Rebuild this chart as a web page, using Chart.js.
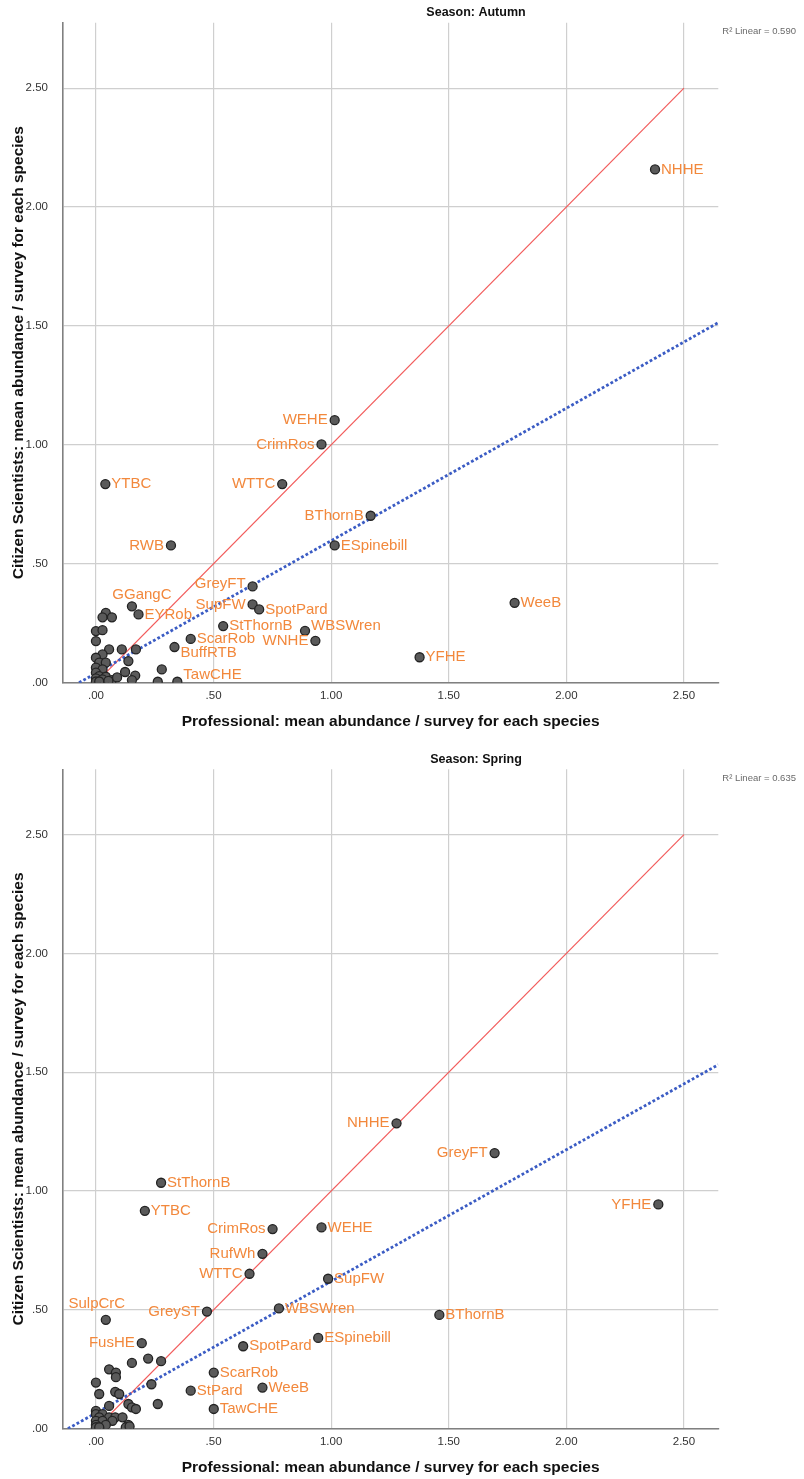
<!DOCTYPE html>
<html>
<head>
<meta charset="utf-8">
<script src="https://cdn.jsdelivr.net/npm/chart.js@4.4.1/dist/chart.umd.min.js"></script>
<style>
  html, body { margin: 0; padding: 0; background: #ffffff; }
  .panel { position: relative; width: 804px; }
  canvas { display: block; }
</style>
</head>
<body>
<div class="panel" style="height:740px"><canvas id="autumnChart" width="804" height="740"></canvas></div>
<div class="panel" style="height:739px"><canvas id="springChart" width="804" height="739"></canvas></div>
<script>
// ---- Autumn: mean abundance per survey, one entry per species ----
const autumnSpecies = [
  'NHHE', 'WEHE', 'CrimRos', 'YTBC', 'WTTC', 'BThornB', 'ESpinebill', 'RWB',
  'GreyFT', 'SupFW', 'SpotPard', 'StThornB', 'WBSWren', 'WNHE', 'YFHE', 'WeeB',
  'GGangC', 'EYRob', 'ScarRob', 'BuffRTB', 'TawCHE',
  '', '', '', '', '', '', '', '', '', '', '', '', '', '', '', '',
  '', '', '', '', '', '', '', '', '', '', '', '', '', '', ''
];
const autumnProfessional = [
  2.377, 1.015, 0.959, 0.040, 0.792, 1.168, 1.015, 0.319,
  0.666, 0.666, 0.694, 0.541, 0.889, 0.933, 1.376, 1.780,
  0.153, 0.181, 0.403, 0.334, 0.346,
  0.042, 0.028, 0.068, 0.000, 0.028, 0.000, 0.056, 0.110, 0.170, 0.028, 0.000, 0.138, 0.014, 0.042, 0.000, 0.028,
  0.280, 0.124, 0.167, 0.153, 0.000, 0.014, 0.042, 0.000, 0.028, 0.068, 0.000, 0.263, 0.014, 0.053, 0.090
];
const autumnCitizen = [
  2.158, 1.104, 1.002, 0.835, 0.835, 0.702, 0.577, 0.577,
  0.405, 0.329, 0.308, 0.238, 0.218, 0.176, 0.107, 0.336,
  0.321, 0.287, 0.184, 0.150, 0.004,
  0.294, 0.275, 0.275, 0.217, 0.221, 0.175, 0.140, 0.140, 0.140, 0.119, 0.105, 0.091, 0.084, 0.084, 0.063, 0.056,
  0.056, 0.045, 0.030, 0.011, 0.042, 0.028, 0.025, 0.018, 0.014, 0.011, 0.005, 0.004, 0.005, 0.008, 0.022
];
const autumnFit = [0.040, 0.557];   // intercept, slope of the linear fit
const autumnR2 = 0.590;

// ---- Spring ----
const springSpecies = [
  'NHHE', 'GreyFT', 'StThornB', 'YTBC', 'CrimRos', 'WEHE', 'RufWh', 'WTTC',
  'SupFW', 'GreyST', 'WBSWren', 'BThornB', 'ESpinebill', 'SpotPard', 'ScarRob',
  'StPard', 'WeeB', 'TawCHE', 'SulpCrC', 'FusHE', 'YFHE',
  '', '', '', '', '', '', '', '', '', '', '', '', '', '', '', '', '',
  '', '', '', '', '', '', '', '', '', '', '', '', '', '', ''
];
const springProfessional = [
  1.278, 1.695, 0.277, 0.208, 0.751, 0.959, 0.708, 0.653,
  0.987, 0.472, 0.778, 1.460, 0.945, 0.626, 0.501,
  0.403, 0.708, 0.501, 0.042, 0.195, 2.391,
  0.222, 0.277, 0.153, 0.056, 0.085, 0.085, 0.000, 0.236, 0.014, 0.082, 0.099, 0.056, 0.138, 0.153, 0.170, 0.263, 0.000,
  0.000, 0.028, 0.014, 0.056, 0.082, 0.113, 0.000, 0.028, 0.070, 0.000, 0.042, 0.138, 0.000, 0.014, 0.127, 0.143
];
const springCitizen = [
  1.285, 1.160, 1.035, 0.917, 0.840, 0.847, 0.736, 0.652,
  0.631, 0.493, 0.506, 0.479, 0.382, 0.347, 0.236,
  0.160, 0.173, 0.083, 0.458, 0.360, 0.944,
  0.295, 0.284, 0.277, 0.250, 0.236, 0.217, 0.194, 0.187, 0.146, 0.155, 0.146, 0.096, 0.104, 0.090, 0.083, 0.104, 0.075,
  0.061, 0.061, 0.048, 0.048, 0.048, 0.048, 0.033, 0.033, 0.033, 0.016, 0.016, 0.016, 0.006, 0.006, 0.006, 0.010
];
const springFit = [0.066, 0.554];
const springR2 = 0.635;

// ---- Shared axis settings ----
const tickValues = [0, 0.5, 1, 1.5, 2, 2.5];
const xRange = [-0.14, 2.646];
const yRange = [0, 2.775];
const identityLine = [0, 2.5];

const FONT = '"Liberation Sans", Arial, Helvetica, sans-serif';
const fmt = v => Number(v).toFixed(2).replace(/^0/, '');

// Where each species code sits relative to its marker
const autumnPlacement = {
  NHHE: ['right', 0], WEHE: ['left', 0], CrimRos: ['left', 0], YTBC: ['right', 0],
  WTTC: ['left', 0], BThornB: ['left', 0], ESpinebill: ['right', 0], RWB: ['left', 0],
  GreyFT: ['left', -3], SupFW: ['left', 0], SpotPard: ['right', 0], StThornB: ['right', 0],
  WBSWren: ['right', -5], WNHE: ['left', 0], YFHE: ['right', 0], WeeB: ['right', 0],
  GGangC: ['above', 10, -11], EYRob: ['right', 0], ScarRob: ['right', 0],
  BuffRTB: ['right', 6], TawCHE: ['right', -7]
};
const springPlacement = {
  NHHE: ['left', 0], GreyFT: ['left', 0], StThornB: ['right', 0], YTBC: ['right', 0],
  CrimRos: ['left', 0], WEHE: ['right', 0], RufWh: ['left', 0], WTTC: ['left', 0],
  SupFW: ['right', 0], GreyST: ['left', 0], WBSWren: ['right', 0], BThornB: ['right', 0],
  ESpinebill: ['right', 0], SpotPard: ['right', 0], ScarRob: ['right', 0], StPard: ['right', 0],
  WeeB: ['right', 0], TawCHE: ['right', 0], SulpCrC: ['above', -9, -16], FusHE: ['left', 0],
  YFHE: ['left', 0]
};

// Species codes next to their markers
const pointLabels = {
  id: 'pointLabels',
  afterDatasetsDraw(chart, args, opts) {
    const ctx = chart.ctx;
    const meta = chart.getDatasetMeta(0);
    const data = chart.data.datasets[0].data;
    ctx.save();
    ctx.font = '15px ' + FONT;
    ctx.fillStyle = '#f2883c';
    ctx.textBaseline = 'middle';
    data.forEach((p, i) => {
      if (!p.name) return;
      const el = meta.data[i];
      const place = opts.placement[p.name] || ['right', 0];
      if (place[0] === 'left') {
        ctx.textAlign = 'right';
        ctx.fillText(p.name, el.x - 7, el.y + place[1]);
      } else if (place[0] === 'above') {
        ctx.textAlign = 'center';
        ctx.fillText(p.name, el.x + place[1], el.y + place[2]);
      } else {
        ctx.textAlign = 'left';
        ctx.fillText(p.name, el.x + 6, el.y + place[1]);
      }
    });
    ctx.restore();
  }
};

// Panel heading and fit statistic
const panelHeader = {
  id: 'panelHeader',
  afterDraw(chart, args, opts) {
    const ctx = chart.ctx;
    const area = chart.chartArea;
    ctx.save();
    ctx.textBaseline = 'middle';
    ctx.textAlign = 'center';
    ctx.fillStyle = '#111';
    ctx.font = 'bold 12.5px ' + FONT;
    ctx.fillText(opts.title, opts.titleX, area.top - 10);
    ctx.textAlign = 'left';
    ctx.fillStyle = '#6a6a6a';
    ctx.font = '9.5px ' + FONT;
    ctx.fillText('R\u00B2 Linear = ' + opts.r2.toFixed(3), area.right + 4, area.top + 9);
    ctx.restore();
  }
};

function buildChart(canvasId, season, species, prof, citizen, fit, r2, placement, padTop, padBottom) {
  const points = prof.map((x, i) => ({ x: x, y: citizen[i], name: species[i] }));
  const fitStart = -fit[0] / fit[1];
  const fitLine = [
    { x: fitStart, y: 0 },
    { x: xRange[1], y: fit[0] + fit[1] * xRange[1] }
  ];
  const oneToOne = identityLine.map(v => ({ x: v, y: v }));

  return new Chart(document.getElementById(canvasId), {
    type: 'scatter',
    data: {
      datasets: [
        {
          label: season,
          data: points,
          pointRadius: 4.5,
          pointHoverRadius: 4.5,
          pointBackgroundColor: '#5a5a5a',
          pointBorderColor: '#232323',
          pointBorderWidth: 1.3
        },
        {
          label: 'Fit',
          data: fitLine,
          showLine: true,
          pointRadius: 0,
          borderColor: '#3b5cc4',
          borderWidth: 2.8,
          borderDash: [2.8, 2.2],
          borderCapStyle: 'butt'
        },
        {
          label: '1:1',
          data: oneToOne,
          showLine: true,
          pointRadius: 0,
          borderColor: '#f25b5b',
          borderWidth: 1.2
        }
      ]
    },
    options: {
      responsive: false,
      animation: false,
      devicePixelRatio: 1,
      layout: { padding: { top: padTop, right: 804 - 718.3, bottom: padBottom, left: 0 } },
      plugins: {
        legend: { display: false },
        tooltip: { enabled: false },
        pointLabels: { placement: placement },
        panelHeader: { title: 'Season: ' + season, r2: r2, titleX: 476 }
      },
      scales: {
        x: {
          type: 'linear',
          min: xRange[0],
          max: xRange[1],
          afterBuildTicks: s => { s.ticks = tickValues.map(v => ({ value: v })); },
          afterFit: s => { s.height = 50; },
          grid: { color: '#cfcfcf', lineWidth: 1.2, drawTicks: false },
          border: { color: '#808080', width: 1.6 },
          ticks: {
            padding: 6, color: '#333', autoSkip: false, maxRotation: 0,
            font: { family: FONT, size: 11.5 },
            callback: v => fmt(v)
          },
          title: {
            display: true,
            text: 'Professional: mean abundance / survey for each species',
            color: '#111',
            font: { family: FONT, size: 15.5, weight: 'bold' },
            padding: { top: 0, bottom: 2 }
          }
        },
        y: {
          type: 'linear',
          min: yRange[0],
          max: yRange[1],
          afterBuildTicks: s => { s.ticks = tickValues.map(v => ({ value: v })); },
          afterFit: s => { s.width = 63; },
          grid: { color: '#cfcfcf', lineWidth: 1.2, drawTicks: false },
          border: { color: '#808080', width: 1.6 },
          ticks: {
            padding: 15, color: '#333', autoSkip: false,
            font: { family: FONT, size: 11.5 },
            callback: v => fmt(v)
          },
          title: {
            display: true,
            text: 'Citizen Scientists: mean abundance / survey for each species',
            color: '#111',
            font: { family: FONT, size: 15.5, weight: 'bold' },
            padding: { top: 9, bottom: 0 }
          }
        }
      }
    },
    plugins: [pointLabels, panelHeader]
  });
}

buildChart('autumnChart', 'Autumn', autumnSpecies, autumnProfessional, autumnCitizen,
  autumnFit, autumnR2, autumnPlacement, 22.7, 7.3);
buildChart('springChart', 'Spring', springSpecies, springProfessional, springCitizen,
  springFit, springR2, springPlacement, 29.3, 0.3);
</script>
</body>
</html>
